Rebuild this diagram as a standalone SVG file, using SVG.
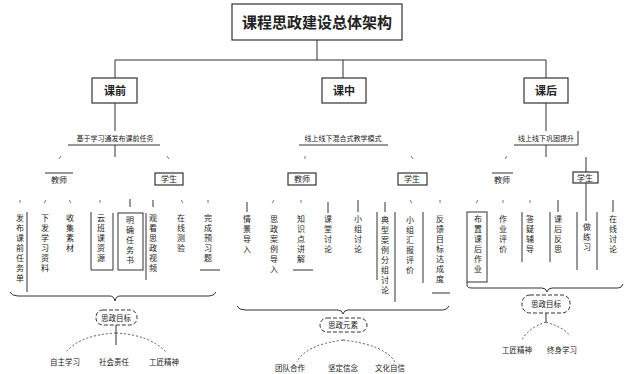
<svg xmlns="http://www.w3.org/2000/svg" width="624" height="374" viewBox="0 0 624 374">
<style>
.box{fill:#fff;stroke:#333;stroke-width:1.2}
.fr{fill:none;stroke:#333;stroke-width:1}
.ln{fill:none;stroke:#333;stroke-width:1}
.tk{fill:none;stroke:#555;stroke-width:0.8}
.dot{fill:none;stroke:#444;stroke-width:0.9;stroke-dasharray:2 2}
.rb{fill:#fff;stroke:#333;stroke-width:1;stroke-dasharray:4 2}
.t{font-family:"Noto Sans CJK SC","Noto Sans",sans-serif;fill:#222;text-anchor:middle}
.title{font-size:15px;font-weight:bold}
.l1{font-size:11px;font-weight:bold}
.lab{font-size:7px}
.l2{font-size:8px}
.leaf{font-family:"Noto Sans CJK SC",sans-serif;fill:#222;font-size:8px;writing-mode:vertical-rl;letter-spacing:2px}
.bt{font-size:7.5px}
</style>
<rect width="624" height="374" fill="#fff"/>
<g id="connectors">
<path class="ln" d="M317,40V60M115,60H546M115,60V78M343,60V78M546,60V78"/>
<path class="ln" d="M115,103V131M68,145H160M115,145V157"/>
<path class="ln" d="M299,145H388"/>
<path class="ln" d="M546,103V131M514,145H578V131M546,145V157M586,157V172M586,183V221"/>
<path class="tk" d="M61,156l-2,3M167,156l2,3M305,156v3M411,156l2,3M507,156l-2,3"/>
<path class="tk" d="M20,200v3M46,200l-2,3M69,200l2,3M100,200v3M181,200l2,3M208,200v3M274,200l-2,3M301,200v3M410,200l2,3M440,200v3M478,200l-2,3M503,200v3M530,200v3"/>
<path class="ln" d="M130,199V207M153,200V207M247,202V212M328,202V213M358,200V212M385,202V212M558,200V212M613,200V212"/>
<path class="ln" d="M27,212V292M91,212V270H113V213M146,213V280M200,270H220"/>
<path class="ln" d="M293,270H313M377,212V280M395,212V302M423,212V283M432,293H450"/>
<path class="ln" d="M522,212V262M550,212V262M577,212V270M597,212V270"/>
<path class="ln" d="M10,292Q12,296 18,296H110Q114,296 115,301Q116,296 120,296H209Q214,296 216,292"/>
<path class="ln" d="M237,306Q239,310 245,310H338Q342,310 343,314Q344,310 348,310H443Q447,310 449,306"/>
<path class="ln" d="M467,282V285Q467,288 472,288H542Q546,288 547,292Q548,288 552,288H618Q622,288 623,284"/>
<path class="ln" d="M116,325V345M546,313V322"/>
<path class="dot" d="M116,333Q80,335 66,352M116,333Q150,335 166,352"/>
<path class="dot" d="M343,340Q305,345 297,362M343,340Q385,345 395,362"/>
<path class="dot" d="M546,322Q528,328 522,340M546,322Q565,328 570,336"/>
</g>
<g id="title"><rect class="box" x="232" y="4" width="170" height="36"/><text class="t title" x="317" y="28">课程思政建设总体架构</text></g>
<g id="kq"><rect class="box" x="92" y="78" width="45" height="25"/><text class="t l1" x="115" y="95">课前</text></g>
<g id="kz"><rect class="box" x="322" y="78" width="44" height="25"/><text class="t l1" x="344" y="95">课中</text></g>
<g id="kh"><rect class="box" x="524" y="78" width="44" height="25"/><text class="t l1" x="546" y="95">课后</text></g>
<g id="kq-lab"><text class="t lab" x="115" y="141">基于学习通发布课前任务</text></g>
<g id="kz-lab"><text class="t lab" x="343" y="141">线上线下混合式教学模式</text></g>
<g id="kh-lab"><text class="t lab" x="546" y="141">线上线下巩固提升</text></g>
<g id="kq-js"><path class="ln" d="M45,173H73"/><text class="t l2" x="59" y="183">教师</text></g>
<g id="kq-xs"><rect class="box" x="155" y="173" width="28" height="12"/><text class="t l2" x="169" y="182">学生</text></g>
<g id="kz-js"><rect class="box" x="288" y="173" width="28" height="12"/><text class="t l2" x="302" y="182">教师</text></g>
<g id="kz-xs"><rect class="box" x="398" y="173" width="29" height="12"/><text class="t l2" x="412" y="182">学生</text></g>
<g id="kh-js"><path class="ln" d="M492,173H513"/><text class="t l2" x="502" y="183">教师</text></g>
<g id="kh-xs"><rect class="box" x="573" y="172" width="25" height="11"/><text class="t l2" x="585" y="181">学生</text></g>
<g id="leaves-kq">
<text class="leaf" x="20" y="214">发布课前任务单</text>
<text class="leaf" x="45" y="214">下发学习资料</text>
<text class="leaf" x="70" y="214">收集素材</text>
<text class="leaf" x="101" y="214">云班课资源</text>
<rect class="fr" x="118" y="213" width="25" height="57"/>
<text class="leaf" x="130" y="216">明确任务书</text>
<text class="leaf" x="153" y="214">观看思政视频</text>
<text class="leaf" x="181" y="214">在线测验</text>
<text class="leaf" x="208" y="214">完成预习题</text>
</g>
<g id="leaves-kz">
<text class="leaf" x="247" y="215">情景导入</text>
<text class="leaf" x="274" y="215">思政案例导入</text>
<text class="leaf" x="301" y="215">知识点讲解</text>
<text class="leaf" x="328" y="215">课堂讨论</text>
<text class="leaf" x="358" y="215">小组讨论</text>
<text class="leaf" x="385" y="216">典型案例分组讨论</text>
<text class="leaf" x="410" y="216">小组汇报评价</text>
<text class="leaf" x="440" y="215">反馈目标达成度</text>
</g>
<g id="leaves-kh">
<rect class="fr" x="467" y="212" width="20" height="70"/>
<text class="leaf" x="478" y="215">布置课后作业</text>
<text class="leaf" x="503" y="215">作业评价</text>
<text class="leaf" x="530" y="215">答疑辅导</text>
<text class="leaf" x="558" y="215">课后反思</text>
<text class="leaf" x="587" y="223">做练习</text>
<text class="leaf" x="613" y="215">在线讨论</text>
</g>
<g id="kq-goal"><rect class="rb" x="96" y="310" width="41" height="15" rx="7"/><text class="t bt" x="116" y="320.5">思政目标</text></g>
<g id="kz-goal"><rect class="rb" x="320" y="318" width="47" height="14" rx="7"/><text class="t bt" x="343" y="328">思政元素</text></g>
<g id="kh-goal"><rect class="rb" x="522" y="295" width="48" height="18" rx="8"/><text class="t bt" x="546" y="307">思政目标</text></g>
<g id="kq-out"><text class="t bt" x="65" y="365">自主学习</text><text class="t bt" x="114" y="365">社会责任</text><text class="t bt" x="164" y="365">工匠精神</text></g>
<g id="kz-out"><text class="t bt" x="290" y="371">团队合作</text><text class="t bt" x="343" y="371">坚定信念</text><text class="t bt" x="390" y="371">文化自信</text></g>
<g id="kh-out"><text class="t bt" x="517" y="353">工匠精神</text><text class="t bt" x="562" y="353">终身学习</text></g>
</svg>
